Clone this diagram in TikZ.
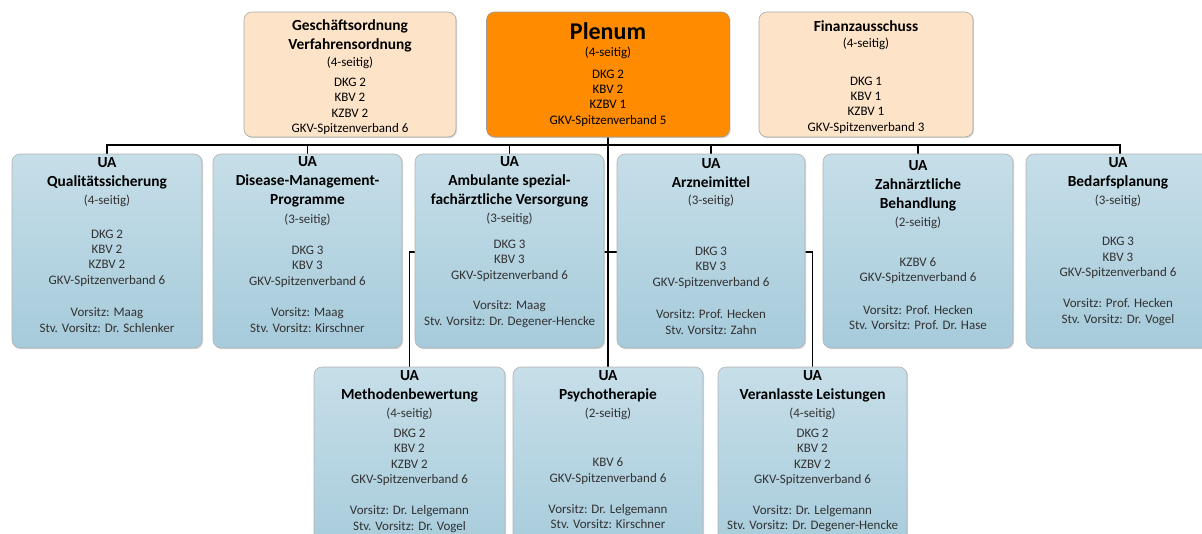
\documentclass[tikz,border=0pt]{standalone}
\usepackage{fontspec}
\setmainfont{Carlito}
\usetikzlibrary{positioning,shadows,backgrounds}
\definecolor{uatop}{RGB}{198,222,232}
\definecolor{uabot}{RGB}{166,203,219}
\definecolor{peach}{RGB}{253,228,200}
\definecolor{plenumor}{RGB}{255,140,0}
\definecolor{bodytxt}{RGB}{50,50,50}

\begin{document}
\begin{tikzpicture}[x=1pt,y=-1pt,
  box/.style={rectangle,rounded corners=8pt,draw=black!35,line width=.6pt,
              drop shadow={shadow xshift=1.2pt,shadow yshift=-1.2pt,fill=black!30}},
  topbox/.style={box,fill=peach,minimum height=125pt},
  plenumbox/.style={box,fill=plenumor,draw=black!40,minimum height=125pt},
  uabox/.style={box,top color=uatop,bottom color=uabot,draw=black!30,minimum height=194pt},
  ttl/.style={align=center,inner sep=0pt,font=\fontsize{15.4}{19}\selectfont\bfseries,text=black},
  big/.style={align=center,inner sep=0pt,font=\fontsize{24}{28}\selectfont\bfseries,text=black},
  txt/.style={align=center,inner sep=0pt,font=\fontsize{13}{15.4}\selectfont,text=bodytxt},
  conn/.style={line width=1.5pt,draw=black}]
\useasboundingbox (0,0) rectangle (1202,533);
\clip (0,0) rectangle (1202,533);

% top row
\node[topbox,minimum width=212pt] (go) at (350,74.5) {};
\node[plenumbox,minimum width=243pt] (plenum) at (608,74.5) {};
\node[topbox,minimum width=214pt] (fa) at (866,74.5) {};

% sub-committees, first row
\node[uabox,minimum width=190pt] (qs) at (107,251) {};
\node[uabox,minimum width=189pt] (dmp) at (307.5,251) {};
\node[uabox,minimum width=189pt] (asv) at (509.5,251) {};
\node[uabox,minimum width=188pt] (am) at (711,251) {};
\node[uabox,minimum width=190pt] (zb) at (918,251) {};
\node[uabox,minimum width=188pt] (bp) at (1120,251) {};

% sub-committees, second row
\node[uabox,minimum width=191pt] (mb) at (409.5,464) {};
\node[uabox,minimum width=190pt] (pt) at (608,464) {};
\node[uabox,minimum width=189pt] (vl) at (812.5,464) {};

% connectors, behind the boxes
\begin{scope}[on background layer]
\coordinate (bus) at (plenum.south |- 0,145);
\coordinate (bus2) at (plenum.south |- 0,252);
\draw[conn] (plenum.south) -- (pt.north);
\foreach \n in {qs,dmp,asv,am,zb,bp}
  \draw[conn] (bus) -| (\n.north);
\foreach \n in {mb,vl}
  \draw[conn] (bus2) -| (\n.north);
\end{scope}

% texts, top row
\node[ttl] (go-t) at (350,35.5) {Geschäftsordnung\\Verfahrensordnung};
\node[txt,text=black] (go-s) at (350,63) {(4-seitig)};
\node[txt,text=black] (go-m) at (350,106.5) {DKG 2\\KBV 2\\KZBV 2\\GKV-Spitzenverband 6};
\node[big] (plenum-t) at (608,31) {Plenum};
\node[txt,text=black] (plenum-s) at (608,53) {(4-seitig)};
\node[txt,text=black] (plenum-m) at (608,98) {DKG 2\\KBV 2\\KZBV 1\\GKV-Spitzenverband 5};
\node[ttl] (fa-t) at (866,26) {Finanzausschuss};
\node[txt,text=black] (fa-s) at (866,44) {(4-seitig)};
\node[txt,text=black] (fa-m) at (866,105) {DKG 1\\KBV 1\\KZBV 1\\GKV-Spitzenverband 3};

% texts, first row
\node[ttl] (qs-t) at (107,173) {UA\\Qualitätssicherung};
\node[txt] (qs-s) at (107,201) {(4-seitig)};
\node[txt] (qs-m) at (107,258) {DKG 2\\KBV 2\\KZBV 2\\GKV-Spitzenverband 6};
\node[txt] (qs-v) at (107,320) {Vorsitz: Maag\\Stv. Vorsitz: Dr. Schlenker};

\node[ttl] (dmp-t) at (307.5,182) {UA\\Disease-Management-\\Programme};
\node[txt] (dmp-s) at (307.5,220) {(3-seitig)};
\node[txt] (dmp-m) at (307.5,266.5) {DKG 3\\KBV 3\\GKV-Spitzenverband 6};
\node[txt] (dmp-v) at (307.5,320) {Vorsitz: Maag\\Stv. Vorsitz: Kirschner};

\node[ttl] (asv-t) at (509.5,182) {UA\\Ambulante spezial-\\fachärztliche Versorgung};
\node[txt] (asv-s) at (509.5,219) {(3-seitig)};
\node[txt] (asv-m) at (509.5,260.5) {DKG 3\\KBV 3\\GKV-Spitzenverband 6};
\node[txt] (asv-v) at (509.5,314) {Vorsitz: Maag\\Stv. Vorsitz: Dr. Degener-Hencke};

\node[ttl] (am-t) at (711,173) {UA\\Arzneimittel};
\node[txt] (am-s) at (711,201) {(3-seitig)};
\node[txt] (am-m) at (711,267.5) {DKG 3\\KBV 3\\GKV-Spitzenverband 6};
\node[txt] (am-v) at (711,322) {Vorsitz: Prof. Hecken\\Stv. Vorsitz: Zahn};

\node[ttl] (zb-t) at (918,185.5) {UA\\Zahnärztliche\\Behandlung};
\node[txt] (zb-s) at (918,223) {(2-seitig)};
\node[txt] (zb-m) at (918,270.5) {KZBV 6\\GKV-Spitzenverband 6};
\node[txt] (zb-v) at (918,317.5) {Vorsitz: Prof. Hecken\\Stv. Vorsitz: Prof. Dr. Hase};

\node[ttl] (bp-t) at (1118,173) {UA\\Bedarfsplanung};
\node[txt] (bp-s) at (1118,201) {(3-seitig)};
\node[txt] (bp-m) at (1118,258) {DKG 3\\KBV 3\\GKV-Spitzenverband 6};
\node[txt] (bp-v) at (1118,312) {Vorsitz: Prof. Hecken\\Stv. Vorsitz: Dr. Vogel};

% texts, second row
\node[ttl] (mb-t) at (409.5,386.5) {UA\\Methodenbewertung};
\node[txt] (mb-s) at (409.5,414) {(4-seitig)};
\node[txt] (mb-m) at (409.5,457.5) {DKG 2\\KBV 2\\KZBV 2\\GKV-Spitzenverband 6};
\node[txt] (mb-v) at (409.5,519) {Vorsitz: Dr. Lelgemann\\Stv. Vorsitz: Dr. Vogel};

\node[ttl] (pt-t) at (608,386.5) {UA\\Psychotherapie};
\node[txt] (pt-s) at (608,414) {(2-seitig)};
\node[txt] (pt-m) at (608,471) {KBV 6\\GKV-Spitzenverband 6};
\node[txt] (pt-v) at (608,516.5) {Vorsitz: Dr. Lelgemann\\Stv. Vorsitz: Kirschner};

\node[ttl] (vl-t) at (812.5,386.5) {UA\\Veranlasste Leistungen};
\node[txt] (vl-s) at (812.5,414) {(4-seitig)};
\node[txt] (vl-m) at (812.5,457.5) {DKG 2\\KBV 2\\KZBV 2\\GKV-Spitzenverband 6};
\node[txt] (vl-v) at (812.5,518.5) {Vorsitz: Dr. Lelgemann\\Stv. Vorsitz: Dr. Degener-Hencke};
\end{tikzpicture}
\end{document}
